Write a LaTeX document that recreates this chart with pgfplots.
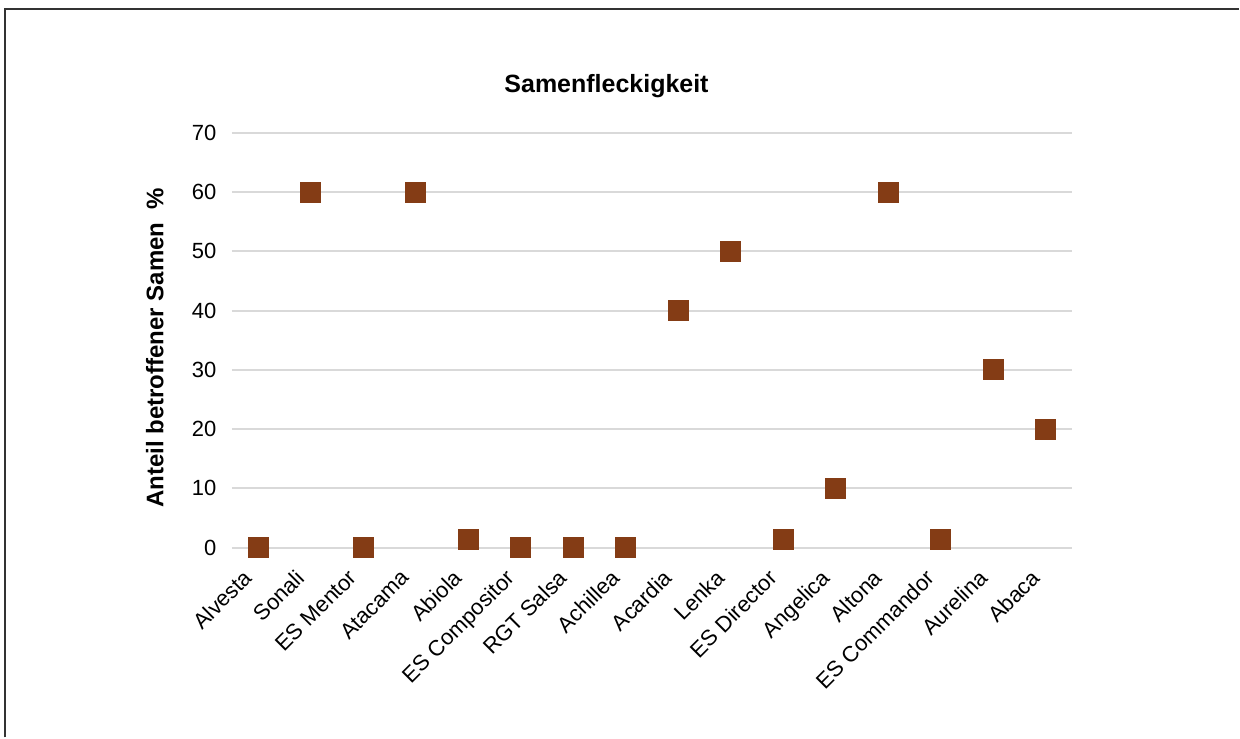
\documentclass[border=0pt]{standalone}
\usepackage{pgfplots}
\pgfplotsset{compat=1.18}
\usepackage{fontspec}
\setmainfont{Liberation Sans}

\definecolor{gridgray}{HTML}{D9D9D9}
\definecolor{seedbrown}{HTML}{843C15}

\pgfplotstableread{
x  val
0  0
1  60
2  0
3  60
4  1.3
5  0
6  0
7  0
8  40
9  50
10 1.3
11 10
12 60
13 1.3
14 30
15 20
}\fleckdata

\begin{document}
\begin{tikzpicture}
  % page size: 1px = 0.5pt
  \path[fill=white] (0,0) rectangle (620pt,-369pt);
  \draw[line width=1pt, black!80] (2.5pt,-369pt) -- (2.5pt,-4.5pt) -- (620pt,-4.5pt);

  \begin{axis}[
    at={(116pt,-274pt)}, anchor=south west,
    scale only axis,
    width=420.5pt, height=207.5pt,
    xmin=-0.5, xmax=15.5,
    ymin=0, ymax=70,
    ytick={0,10,...,70},
    xtick={0,...,15},
    xticklabels={Alvesta, Sonali, ES Mentor, Atacama, Abiola, ES Compositor, RGT Salsa, Achillea, Acardia, Lenka, ES Director, Angelica, Altona, ES Commandor, Aurelina, Abaca},
    axis line style={draw=none},
    major tick length=0pt,
    ymajorgrids,
    grid style={gridgray, line width=1pt},
    clip=false,
    /pgf/number format/assume math mode=true,
    tick label style={font=\fontsize{11}{13}\selectfont, text=black},
    yticklabel style={anchor=east, inner sep=0pt, xshift=-7.5pt},
    % shifts act in the rotated frame
    xticklabel style={rotate=45, anchor=north east, inner sep=0pt, xshift=-12.8pt, yshift=-1.5pt},
  ]
    \addplot[only marks, mark=square*, mark size=5pt,
      mark options={fill=seedbrown, draw=seedbrown, rounded corners=0.8pt}]
      table[x=x, y=val] {\fleckdata};
  \end{axis}

  \node[font=\bfseries\fontsize{12.5}{15}\selectfont] at (303.5pt,-43pt) {Samenfleckigkeit};
  \node[font=\bfseries\fontsize{12}{14}\selectfont, rotate=90] at (77.5pt,-174pt) {Anteil betroffener Samen\ \ \%};
\end{tikzpicture}
\end{document}
